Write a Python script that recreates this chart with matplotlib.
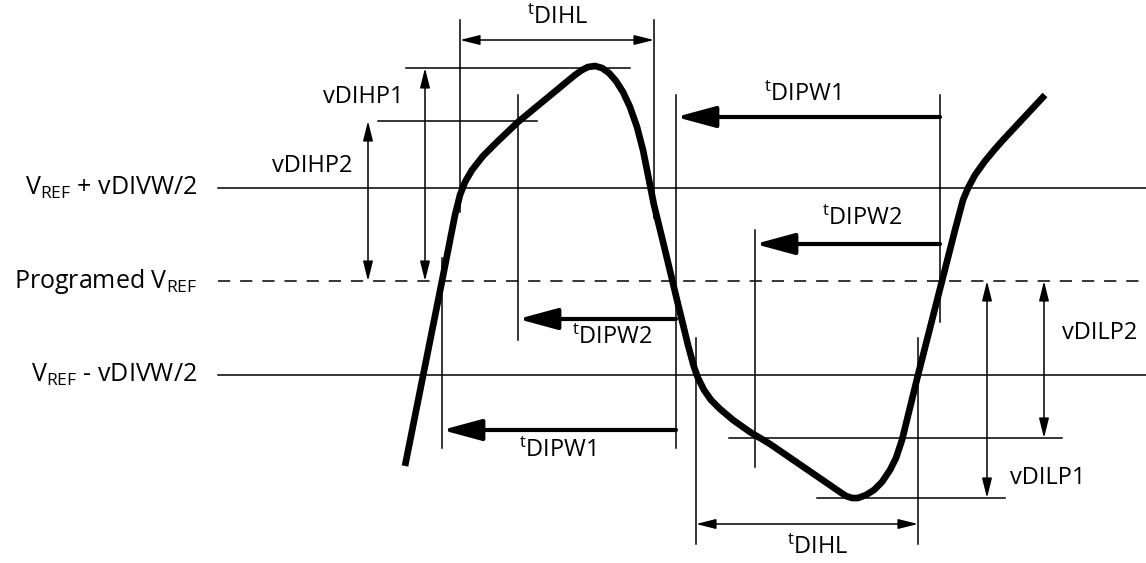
import matplotlib.pyplot as plt

plt.rcParams['font.family'] = ['Open Sans', 'DejaVu Sans']
plt.rcParams['mathtext.fontset'] = 'custom'
plt.rcParams['mathtext.rm'] = 'Open Sans'
plt.rcParams['mathtext.default'] = 'regular'

# waveform (pixel coords, y down)
wave_x = [405, 442, 455, 460, 465, 472, 483, 497, 518, 575, 582, 588, 595, 602, 609, 616,
          623, 630, 637, 643, 654, 665, 677, 688, 694, 698, 704, 711, 720, 733, 750, 770,
          840, 846, 852, 858, 866, 874, 882, 890, 896, 902, 918, 942, 955, 963, 968, 975,
          985, 995, 1003, 1045]
wave_y = [466, 281, 215, 195, 182, 170, 156, 142, 122, 75, 70, 67, 66, 68, 73, 81,
          92, 107, 127, 150, 205, 250, 300, 345, 367, 378, 390, 400, 409, 420, 432, 444,
          492, 496, 498, 498, 495, 490, 482, 470, 458, 440, 375, 281, 230, 200, 188, 175,
          161, 149, 140, 95]

# reference levels
level_names = ['V$_{REF}$ + vDIVW/2', 'Programed V$_{REF}$', 'V$_{REF}$ - vDIVW/2']
level_y = [188, 281, 375]
level_style = ['-', (0, (8, 6.5)), '-']

# thin helper lines: (x0, y0, x1, y1)
helper_lines = [
    (460, 20, 460, 212), (654, 20, 654, 218),
    (406, 68, 630, 68), (378, 121, 537, 121),
    (518, 95, 518, 340), (442, 258, 442, 448),
    (676, 95, 676, 448), (940, 95, 940, 322),
    (755, 230, 755, 467), (696, 338, 696, 544),
    (918, 338, 918, 544), (729, 438, 1062, 438),
    (817, 498, 1005, 498),
]

# double headed thin arrows
dbl_arrows = [
    (460, 40, 654, 40), (696, 524, 918, 524),
    (425, 68, 425, 281), (368, 121, 368, 281),
    (987, 281, 987, 498), (1044, 281, 1044, 438),
]

# thick pulse width arrows: (tail x, tip x, y)
pw_arrows = [(676, 442, 430), (676, 518, 319), (940, 676, 117), (940, 755, 244)]

labels = [
    (558, 18, '$^{t}$DIHL'), (818, 548, '$^{t}$DIHL'),
    (557, 451, '$^{t}$DIPW1'), (612, 338, '$^{t}$DIPW2'),
    (802, 95, '$^{t}$DIPW1'), (862, 219, '$^{t}$DIPW2'),
    (363, 97, 'vDIHP1'), (312, 166, 'vDIHP2'),
    (1048, 478, 'vDILP1'), (1100, 333, 'vDILP2'),
]

fig = plt.figure(figsize=(11.46, 5.63), dpi=100)
ax = fig.add_axes([0, 0, 1, 1])
ax.set_xlim(0, 1146)
ax.set_ylim(563, 0)
ax.axis('off')

for name, y, ls in zip(level_names, level_y, level_style):
    ax.plot([218, 1146], [y, y], color='black', lw=1.1, linestyle=ls)
    ax.text(197, y, name, ha='right', va='center', fontsize=18)

for x0, y0, x1, y1 in helper_lines:
    ax.plot([x0, x1], [y0, y1], color='black', lw=1.1)

for x0, y0, x1, y1 in dbl_arrows:
    ax.annotate('', xy=(x1, y1), xytext=(x0, y0),
                arrowprops=dict(arrowstyle='<|-|>,head_length=1.2,head_width=0.3',
                                mutation_scale=10, color='black', lw=1.1,
                                shrinkA=0, shrinkB=0))

for xt, xh, y in pw_arrows:
    ax.annotate('', xy=(xh, y), xytext=(xt, y),
                arrowprops=dict(arrowstyle='-|>,head_length=2.4,head_width=0.65',
                                mutation_scale=10, color='black', lw=3,
                                shrinkA=0, shrinkB=0))

ax.plot(wave_x, wave_y, color='black', lw=4.8, solid_joinstyle='round', solid_capstyle='butt')

for x, y, s in labels:
    ax.text(x, y, s, ha='center', va='center', fontsize=17)

fig.savefig('out.png', dpi=100)
